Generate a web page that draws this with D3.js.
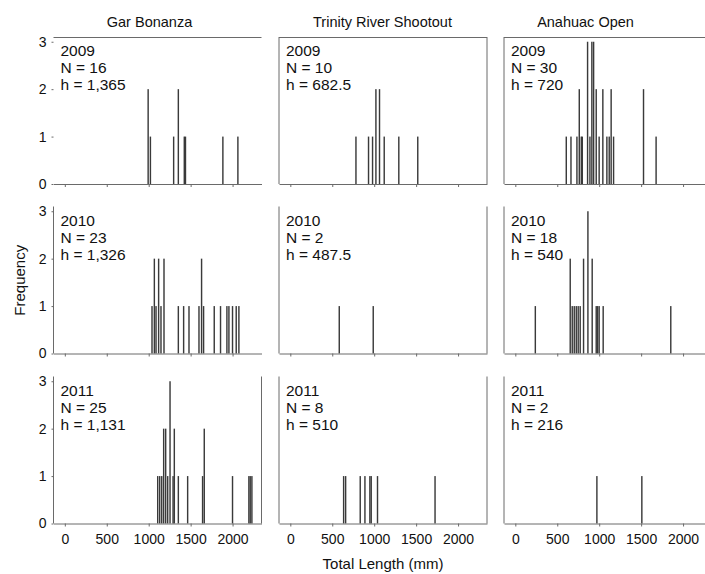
<!DOCTYPE html>
<html>
<head>
<meta charset="utf-8">
<script src="https://cdn.jsdelivr.net/npm/d3@7"></script>
<style>
  body { margin: 0; background: #fff; }
  svg { font-family: "Liberation Sans", Arial, sans-serif; }
</style>
</head>
<body>
<div id="chart"></div>
<script>
// Length-frequency of gar by tournament (columns) and year (rows)

const tournaments = ['Gar Bonanza', 'Trinity River Shootout', 'Anahuac Open'];
const years = ['2009', '2010', '2011'];
const sampleN = [[16, 10, 30], [23, 2, 18], [25, 8, 2]];
const bandwidthH = [['1,365', '682.5', '720'], ['1,326', '487.5', '540'], ['1,131', '510', '216']];
const xTicks = [0, 500, 1000, 1500, 2000];
const yTicks = [0, 1, 2, 3];

// total length (mm) and frequency per panel
const gar2009Len = [985, 1012, 1289, 1345, 1416, 1430, 1876, 2055];
const gar2009Freq = [2, 1, 1, 2, 1, 1, 1, 1];
const trinity2009Len = [774, 924, 972, 1012, 1055, 1111, 1285, 1511];
const trinity2009Freq = [1, 1, 1, 2, 2, 1, 1, 1];
const anahuac2009Len = [599, 655, 726, 754, 778, 790, 853, 881, 904, 925, 956, 991, 1035, 1083, 1111, 1134, 1163, 1520, 1670];
const anahuac2009Freq = [1, 1, 1, 2, 1, 1, 3, 1, 3, 3, 2, 1, 2, 1, 1, 2, 1, 2, 1];

const gar2010Len = [1031, 1059, 1079, 1110, 1138, 1174, 1345, 1408, 1472, 1591, 1622, 1646, 1773, 1848, 1924, 1948, 1991, 2035, 2067];
const gar2010Freq = [1, 2, 1, 2, 1, 2, 1, 1, 1, 1, 2, 1, 1, 1, 1, 1, 1, 1, 1];
const trinity2010Len = [575, 980];
const trinity2010Freq = [1, 1];
const anahuac2010Len = [230, 646, 670, 694, 718, 741, 765, 805, 857, 908, 956, 972, 991, 1039, 1845];
const anahuac2010Freq = [1, 2, 1, 1, 1, 1, 1, 2, 3, 2, 1, 1, 1, 1, 1];

const gar2011Len = [1099, 1123, 1147, 1170, 1194, 1218, 1246, 1282, 1297, 1345, 1456, 1634, 1654, 1991, 2186, 2202, 2222];
const gar2011Freq = [1, 1, 1, 2, 2, 1, 3, 1, 2, 1, 1, 1, 2, 1, 1, 1, 1];
const trinity2011Len = [627, 651, 825, 881, 940, 956, 1031, 1717];
const trinity2011Freq = [1, 1, 1, 1, 1, 1, 1, 1];
const anahuac2011Len = [964, 1500];
const anahuac2011Freq = [1, 1];

const panelData = [
  [[gar2009Len, gar2009Freq], [trinity2009Len, trinity2009Freq], [anahuac2009Len, anahuac2009Freq]],
  [[gar2010Len, gar2010Freq], [trinity2010Len, trinity2010Freq], [anahuac2010Len, anahuac2010Freq]],
  [[gar2011Len, gar2011Freq], [trinity2011Len, trinity2011Freq], [anahuac2011Len, anahuac2011Freq]]
];

// which frame sides each panel shows (as in the original figure)
const frames = [
  [{ top: 1 }, { left: 1, top: 1, right: 1 }, { left: 1, top: 1 }],
  [{ left: 1 }, { left: 1, right: 1 }, { left: 1 }],
  [{ left: 1, right: 1 }, { left: 1, right: 1 }, { left: 1 }]
];

const W = 705, H = 574;
const colLeft = [53.5, 279, 504];
const rowTop = [37, 206.5, 376.5];
const pw = 208, ph = 147;
const binW = 17; // mm
const titleX = [149.5, 382.5, 585.5];

const svg = d3.select('#chart').append('svg')
  .attr('width', W).attr('height', H);

const x = d3.scaleLinear().domain([-135, 2345]).range([0, pw]);
const y = d3.scaleLinear().domain([0, 3.1]).range([ph, 0]);

const axisColor = '#6a6a6a';

tournaments.forEach((t, c) => {
  svg.append('text')
    .attr('x', titleX[c]).attr('y', 27)
    .attr('text-anchor', 'middle')
    .attr('font-size', 14.5).attr('fill', '#111')
    .text(t);
});

years.forEach((yr, r) => {
  tournaments.forEach((t, c) => {
    const g = svg.append('g').attr('transform', `translate(${colLeft[c]},${rowTop[r]})`);
    const [lens, freqs] = panelData[r][c];
    const bars = lens.map((v, i) => ({ len: v, freq: freqs[i] }));

    // frame lines
    const f = frames[r][c];
    if (f.top) g.append('line').attr('x1', 0).attr('x2', pw).attr('y1', 0.5).attr('y2', 0.5)
      .attr('stroke', axisColor);
    if (f.right) g.append('line').attr('x1', pw).attr('x2', pw).attr('y1', 0).attr('y2', ph)
      .attr('stroke', axisColor);
    if (f.left) g.append('line').attr('x1', 0).attr('x2', 0).attr('y1', 0).attr('y2', ph)
      .attr('stroke', axisColor);

    // bars
    g.selectAll('rect.bar').data(bars).enter().append('rect')
      .attr('class', 'bar')
      .attr('x', d => x(d.len))
      .attr('width', d => x(d.len + binW) - x(d.len))
      .attr('y', d => y(d.freq))
      .attr('height', d => y(0) - y(d.freq))
      .attr('fill', '#3a3a3a');

    // x axis
    const xAxis = d3.axisBottom(x).tickValues(xTicks).tickSize(3).tickSizeOuter(0)
      .tickFormat(r === 2 ? d3.format('d') : () => '');
    const xg = g.append('g').attr('transform', `translate(0,${ph})`).call(xAxis);
    xg.select('.domain').attr('stroke', axisColor);
    xg.selectAll('.tick line').attr('stroke', axisColor);
    xg.selectAll('.tick text').attr('font-size', 14).attr('fill', '#111')
      .attr('font-family', '"Liberation Sans", Arial, sans-serif').attr('dy', '1.05em');

    // y axis on first column only
    if (c === 0) {
      const yAxis = d3.axisLeft(y).tickValues(yTicks).tickSize(2).tickSizeOuter(0).tickFormat(d3.format('d'));
      const yg = g.append('g').call(yAxis);
      yg.select('.domain').remove();
      yg.selectAll('.tick line').attr('stroke', axisColor);
      yg.selectAll('.tick text').attr('font-size', 14).attr('fill', '#111')
        .attr('font-family', '"Liberation Sans", Arial, sans-serif').attr('x', -7);
    }

    // panel label
    const lbl = g.append('text').attr('x', 7).attr('y', 19)
      .attr('font-size', 15.5).attr('fill', '#111');
    [yr, `N = ${sampleN[r][c]}`, `h = ${bandwidthH[r][c]}`].forEach((s, i) => {
      lbl.append('tspan').attr('x', 7).attr('dy', i === 0 ? 0 : 17).text(s);
    });
  });
});

svg.append('text')
  .attr('transform', `translate(25,${(rowTop[0] + rowTop[2] + ph) / 2}) rotate(-90)`)
  .attr('text-anchor', 'middle').attr('font-size', 15).attr('fill', '#111')
  .text('Frequency');

svg.append('text')
  .attr('x', 383).attr('y', 569)
  .attr('text-anchor', 'middle').attr('font-size', 15).attr('fill', '#111')
  .text('Total Length (mm)');
</script>
</body>
</html>
